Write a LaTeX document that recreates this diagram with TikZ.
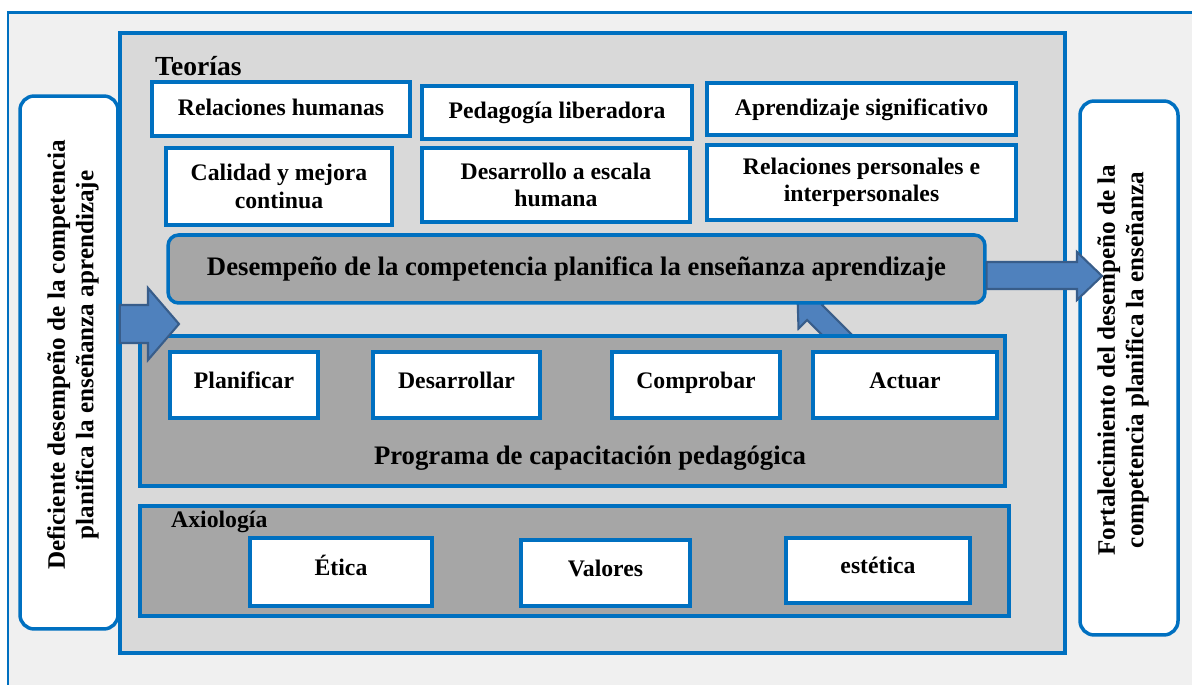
\documentclass[tikz,border=0pt]{standalone}
\usepackage{fontspec}
\setmainfont{Liberation Serif}
\definecolor{frameblue}{HTML}{0070C0}
\definecolor{arrowfill}{HTML}{4F81BD}
\definecolor{arrowline}{HTML}{385D8A}
\definecolor{panelgray}{HTML}{D9D9D9}
\definecolor{boxgray}{HTML}{A6A6A6}
\definecolor{backgray}{HTML}{F0F0F0}

\begin{document}
\begin{tikzpicture}[x=0.02cm, y=-0.02cm,
    every node/.style={font=\fontsize{13.5}{15.5}\selectfont\bfseries},
    big/.style={font=\fontsize{15.2}{17.5}\selectfont\bfseries},
    tbox/.style={draw=frameblue, line width=2pt, fill=white, align=center, inner sep=2pt},
    oneline/.style={text height=0.7em, text depth=0pt},
    lifted/.style={text height=0.7em, text depth=0.34em},
    gbox/.style={draw=frameblue, line width=2pt, fill=boxgray},
    sidebox/.style={draw=frameblue, line width=2pt, fill=white, rounded corners=8pt},
    sidetext/.style={rotate=90, align=center, font=\fontsize{14.3}{16.2}\selectfont\bfseries},
    blockarrow/.style={draw=arrowline, line width=1.2pt, fill=arrowfill, line join=miter}]
      \useasboundingbox (0,0) rectangle (1192,685);
      % background frame
      \fill[backgray] (8,13) rectangle (1192,685);
      \draw[frameblue, line width=1.7pt] (8,685) -- (8,13) -- (1192,13);
      \node[draw=frameblue, line width=2pt, fill=panelgray, minimum width=18.9cm, minimum height=12.4cm] (panel) at (592.5,343) {};

      \node[anchor=west, font=\fontsize{15.7}{18}\selectfont\bfseries] (teo) at (149,66) {Teorías};
      \node[tbox, oneline, minimum width=5.16cm, minimum height=1.08cm] (rh) at (281,109) {Relaciones humanas};
      \node[tbox, oneline, minimum width=5.40cm, minimum height=1.06cm] (pl) at (557,112.5) {Pedagogía liberadora};
      \node[tbox, oneline, minimum width=6.18cm, minimum height=1.04cm] (as) at (861.5,109) {Aprendizaje significativo};
      \node[tbox, minimum width=4.52cm, minimum height=1.54cm] (cm) at (279,186.5) {Calidad y mejora\\continua};
      \node[tbox, minimum width=5.36cm, minimum height=1.48cm] (dh) at (556,185) {Desarrollo a escala\\humana};
      \node[tbox, minimum width=6.18cm, minimum height=1.50cm] (rp) at (861.5,182.5) {Relaciones personales e\\interpersonales};

      % arrow from the cycle up to the competence
      \draw[blockarrow] (849,362) -- (807,320) -- (798.5,328.5) -- (797.5,295.5) -- (830.5,296.5) -- (822,305) -- (864,347) -- cycle;

      \node[gbox, big, rounded corners=6pt, minimum width=16.34cm, minimum height=1.36cm] (des) at (576.5,269) {Desempeño de la competencia planifica la enseñanza aprendizaje};

      \node[gbox, minimum width=17.3cm, minimum height=3.0cm] (prog) at (572.5,411) {};
      \node[big] (progt) at (590,458) {Programa de capacitación pedagógica};
      \node[tbox, lifted, minimum width=2.96cm, minimum height=1.32cm] (pla) at (244,385) {Planificar};
      \node[tbox, lifted, minimum width=3.34cm, minimum height=1.32cm] (dsr) at (456.5,385) {Desarrollar};
      \node[tbox, lifted, minimum width=3.36cm, minimum height=1.32cm] (com) at (696,385) {Comprobar};
      \node[tbox, lifted, minimum width=3.68cm, minimum height=1.32cm] (act) at (905,385) {Actuar};

      \node[gbox, minimum width=17.38cm, minimum height=2.2cm] (axi) at (574.5,561) {};
      \node[anchor=west] (axit) at (165,522) {Axiología};
      \node[tbox, lifted, minimum width=3.64cm, minimum height=1.36cm] (eti) at (341,572) {Ética};
      \node[tbox, lifted, minimum width=3.38cm, minimum height=1.32cm] (val) at (605.5,573) {Valores};
      \node[tbox, lifted, minimum width=3.68cm, minimum height=1.30cm] (est) at (878,570.5) {estética};

      \node[sidebox, minimum width=1.96cm, minimum height=10.66cm] (lft) at (69,362.5) {};
      \node[sidetext] (lftt) at (73,355) {Deficiente desempeño de la competencia\\planifica la enseñanza aprendizaje};
      \node[sidebox, minimum width=1.96cm, minimum height=10.68cm] (rgt) at (1129,368) {};
      \node[sidetext] (rgtt) at (1123,360) {Fortalecimiento del desempeño de la\\competencia planifica la enseñanza};

      % in and out arrows
      \draw[blockarrow] (lft.east |- 0,305) -- (148,305) -- (148,288) -- (179,324) -- (148,360) -- (148,343) -- (lft.east |- 0,343) -- cycle;
      \draw[blockarrow] (des.east |- 0,262) -- (1077,262) -- (1077,252) -- (1102,276) -- (1077,300) -- (1077,289) -- (des.east |- 0,289) -- cycle;
    \end{tikzpicture}
\end{document}
